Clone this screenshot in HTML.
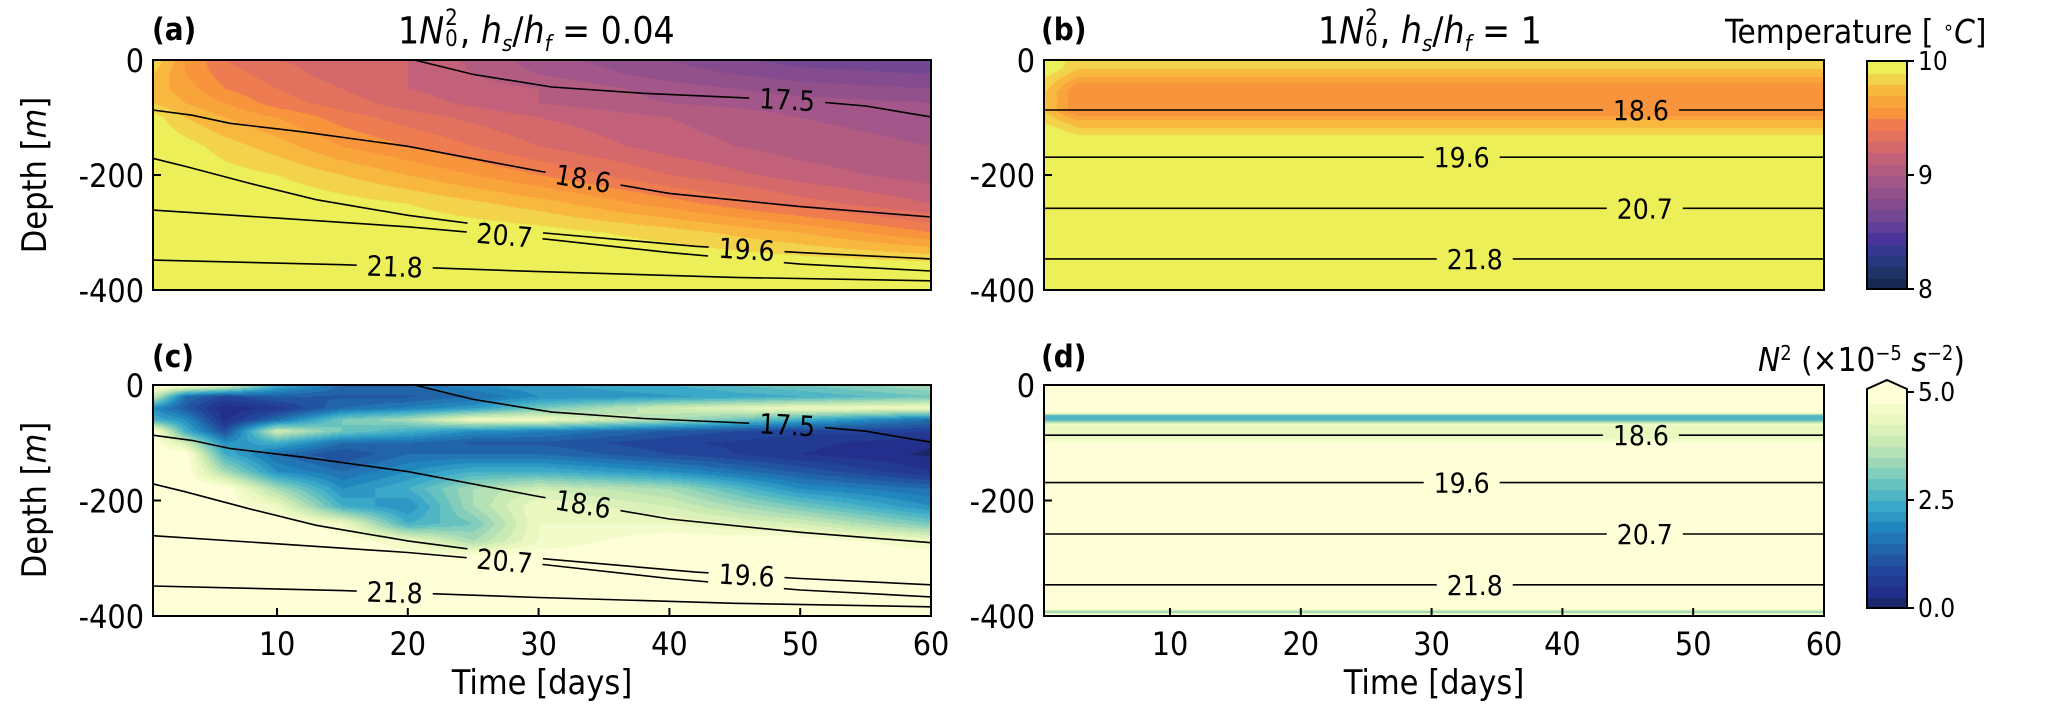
<!DOCTYPE html>
<html><head><meta charset="utf-8">
<style>
body{margin:0;background:#fff;}
#root{position:relative;width:2067px;height:716px;overflow:hidden;background:#fff;font-family:"DejaVu Sans Condensed","DejaVu Sans","Liberation Sans",sans-serif;font-stretch:condensed;color:#000;}
canvas{position:absolute;}
svg{position:absolute;left:0;top:0;}
.t{position:absolute;white-space:nowrap;font-size:30px;line-height:1;}
.ss{display:inline-flex;flex-direction:column;vertical-align:middle;font-size:22px;line-height:0.95;margin-left:1px;margin-right:2px;position:relative;top:-3px;}
.sub{font-size:22px;position:relative;top:8px;}
.sup{font-size:20px;position:relative;top:-12px;}
</style></head>
<body>
<div id="root">
<canvas id="cvA"></canvas>
<canvas id="cvB"></canvas>
<canvas id="cvC"></canvas>
<canvas id="cvD"></canvas>
<canvas id="cbT"></canvas>
<canvas id="cbN"></canvas>
<svg id="ov" width="2067" height="716"></svg>

<div class="t" style="left:152px;top:15px;font-weight:bold;font-size:31px;">(a)</div>
<div class="t" style="left:1041px;top:15px;font-weight:bold;font-size:31px;">(b)</div>
<div class="t" style="left:152px;top:342px;font-weight:bold;font-size:31px;">(c)</div>
<div class="t" style="left:1041px;top:342px;font-weight:bold;font-size:31px;">(d)</div>

<div class="t" style="left:398px;top:12px;font-size:37px;">1<i>N</i><span class="ss"><span>2</span><span>0</span></span>, <i>h<span class="sub">s</span></i>/<i>h<span class="sub">f</span></i> = 0.04</div>
<div class="t" style="left:1318px;top:12px;font-size:37px;">1<i>N</i><span class="ss"><span>2</span><span>0</span></span>, <i>h<span class="sub">s</span></i>/<i>h<span class="sub">f</span></i> = 1</div>
<div class="t" style="left:1725px;top:15px;font-size:33px;">Temperature [ <span class="sup" style="font-size:20px;top:-9px">∘</span><i>C</i>]</div>
<div class="t" style="left:1758px;top:343px;font-size:33px;"><i>N</i><span class="sup" style="top:-11px">2</span> (×10<span class="sup" style="top:-11px">−5</span> <i>s</i><span class="sup" style="top:-11px">−2</span>)</div>

<div class="t" style="left:-45px;top:158px;transform:rotate(-90deg);width:160px;text-align:center;font-size:34px;">Depth [<i>m</i>]</div>
<div class="t" style="left:-45px;top:483px;transform:rotate(-90deg);width:160px;text-align:center;font-size:34px;">Depth [<i>m</i>]</div>
<div class="t" style="left:432px;top:666px;width:220px;text-align:center;font-size:34px;">Time [days]</div>
<div class="t" style="left:1324px;top:666px;width:220px;text-align:center;font-size:34px;">Time [days]</div>
</div>

<script>
// ---------- DATA ----------
const tempTimesA = [0.5, 3, 6, 10, 15, 20, 30, 40, 50, 60];
const tempDepthsA = [0, -25, -50, -75, -100, -150, -200, -250, -300, -350, -400];
const tempA = [
 [9.9, 9.6, 9.4, 9.3, 9.25, 9.2, 8.95, 8.8, 8.65, 8.6],
 [9.8, 9.6, 9.45, 9.35, 9.25, 9.2, 9.0, 8.85, 8.75, 8.7],
 [9.75, 9.65, 9.5, 9.4, 9.3, 9.2, 9.1, 8.95, 8.85, 8.8],
 [9.8, 9.7, 9.6, 9.45, 9.35, 9.25, 9.1, 9.0, 8.95, 8.9],
 [9.95, 9.8, 9.7, 9.6, 9.45, 9.35, 9.2, 9.1, 9.0, 8.95],
 [10, 9.95, 9.85, 9.75, 9.6, 9.5, 9.3, 9.15, 9.05, 9.0],
 [10, 10, 9.95, 9.9, 9.8, 9.7, 9.5, 9.3, 9.15, 9.05],
 [10, 10, 10, 10, 9.95, 9.9, 9.75, 9.55, 9.35, 9.2],
 [10, 10, 10, 10, 10, 10, 9.95, 9.85, 9.7, 9.5],
 [10, 10, 10, 10, 10, 10, 10, 10, 9.95, 9.9],
 [10, 10, 10, 10, 10, 10, 10, 10, 10, 10]
];
const tempTimesB = [0.5, 3, 60];
const tempDepthsB = [0, -15, -30, -45, -55, -90, -100, -110, -125, -140, -400];
const tempB = [
 [10, 9.85, 9.85],
 [10, 9.8, 9.8],
 [9.9, 9.7, 9.7],
 [9.85, 9.55, 9.55],
 [9.8, 9.5, 9.5],
 [9.8, 9.5, 9.5],
 [9.85, 9.65, 9.65],
 [9.9, 9.75, 9.75],
 [10, 9.85, 9.85],
 [10, 10, 10],
 [10, 10, 10]
];
const n2TimesC = [0.5, 3, 6, 10, 15, 20, 25, 30, 40, 50, 60];
const n2DepthsC = [0, -20, -40, -60, -80, -100, -120, -150, -180, -210, -240, -270, -300, -350, -400];
const n2C = [
 [5, 5, 4.5, 2.5, 1.5, 1.5, 2, 2.2, 2.5, 3, 3.5],
 [4, 1.5, 0.9, 1.3, 1.2, 1.2, 1.5, 2, 2.2, 2.5, 3.0],
 [2, 1.2, 0.3, 0.6, 1.5, 1.8, 2.2, 3, 4, 4.5, 4.5],
 [2.5, 2, 0.4, 1.5, 3, 3.5, 4.5, 4.5, 3.5, 2.5, 1.5],
 [5, 2.5, 1.0, 4, 3, 2.5, 2, 1.8, 1.2, 0.8, 0.8],
 [5, 4, 2, 2.5, 1.5, 1.5, 1.2, 1.2, 0.8, 0.6, 0.3],
 [5, 5, 2.5, 1.5, 1.0, 1.5, 1.5, 1.5, 1.0, 0.5, 0.2],
 [5, 5, 3.5, 2, 1.5, 2, 2.5, 2.5, 2, 1.2, 0.5],
 [5, 5, 5, 3.5, 2, 2.5, 3.5, 4, 3.5, 2, 1.5],
 [5, 5, 5, 4.5, 2.5, 2, 3.5, 4.5, 4, 3, 2],
 [5, 5, 5, 5, 4.5, 2.5, 3, 4.5, 4.5, 4, 3],
 [5, 5, 5, 5, 5, 4.5, 3.5, 4.5, 5, 5, 4.5],
 [5, 5, 5, 5, 5, 5, 5, 5, 5, 5, 5],
 [5, 5, 5, 5, 5, 5, 5, 5, 5, 5, 5],
 [5, 5, 5, 5, 5, 5, 5, 5, 5, 5, 5]
];
const n2TimesD = [0.5, 60];
const n2DepthsD = [0, -48, -53, -58, -63, -68, -75, -90, -100, -106, -388, -393, -397, -400];
const n2D = [
 [5, 5], [5, 5], [2.6, 2.6], [2.5, 2.5], [3.2, 3.2], [4.6, 4.6], [4.3, 4.3], [4.3, 4.3],
 [4.8, 4.8], [5, 5], [5, 5], [3, 3], [5, 5], [5, 5]
];
const c175Days = [20.5, 25, 31, 38, 44, 50, 55, 60];
const c175Depth = [0, -25, -47, -58, -64, -70, -80, -99];
const c186Days = [0.5, 3.5, 6.4, 12, 20, 30, 40, 50, 60];
const c186Depth = [-87, -96, -110, -125, -150, -193, -232, -255, -273];
const c196Days = [0.5, 3, 8, 13, 20, 30, 42, 50, 60];
const c196Depth = [-171, -185, -215, -243, -270, -300, -324, -335, -346];
const c207Days = [0.5, 10, 20, 30, 40, 50, 60];
const c207Depth = [-261, -275, -290, -310, -335, -355, -367];
const c218Days = [0.5, 15, 30, 45, 60];
const c218Depth = [-348, -356, -368, -378, -384];
const contourLabelsA = ["17.5", "18.6", "19.6", "20.7", "21.8"];
const contourLabelDaysA = [49, 33.4, 45.9, 27.4, 19];
const flatContourDepths = [-87, -169, -258, -346];
const flatContourLabels = ["18.6", "19.6", "20.7", "21.8"];
const flatContourLabelDays = [46, 32.3, 46.3, 33.3];
const xTicks = [10, 20, 30, 40, 50, 60];
const yTicks = [0, -200, -400];
const tempCbTicks = [10, 9, 8];
const n2CbTicks = [5.0, 2.5, 0.0];

// ---------- SCALES ----------
const PX = 13.08;
const panels = {
  a: {x0: 153, x1: 931, y0: 60, y1: 290, tick10: 277},
  b: {x0: 1044, x1: 1824, y0: 60, y1: 290, tick10: 1170},
  c: {x0: 153, x1: 931, y0: 385, y1: 616, tick10: 277},
  d: {x0: 1044, x1: 1824, y0: 385, y1: 616, tick10: 1170}
};
function xs(p, t){ return p.tick10 + (t - 10) * PX; }
function ys(p, d){ return p.y0 + (-d) / 400 * (p.y1 - p.y0); }
function tx(p, x){ return 10 + (x - p.tick10) / PX; }
function dy(p, y){ return -(y - p.y0) / (p.y1 - p.y0) * 400; }

// ---------- COLORMAPS ----------
const tStops = [[8.0,"#0f1d3a"],[8.2,"#1f3366"],[8.35,"#2c3a8a"],[8.5,"#4a349c"],[8.65,"#6a4494"],[8.8,"#844c8e"],[9.0,"#a2568a"],[9.2,"#c3617a"],[9.35,"#dc6b63"],[9.5,"#ee7c50"],[9.6,"#f8953c"],[9.75,"#f9ab3a"],[9.85,"#f7c545"],[10,"#ecef57"]];
const nStops = [[0,"#101e4b"],[0.5,"#232f8c"],[1.0,"#22449a"],[1.5,"#2165a8"],[2.0,"#2186be"],[2.5,"#3aa8c8"],[3.0,"#66c2bf"],[3.5,"#9dd7b7"],[4.0,"#caeab4"],[4.5,"#eaf7bf"],[5,"#feffd6"]];
function hex(h){ return [parseInt(h.substr(1,2),16),parseInt(h.substr(3,2),16),parseInt(h.substr(5,2),16)]; }
function cmap(stops, v){
  if (v <= stops[0][0]) return hex(stops[0][1]);
  for (let i = 1; i < stops.length; i++) {
    if (v <= stops[i][0]) {
      const f = (v - stops[i-1][0]) / (stops[i][0] - stops[i-1][0]);
      const a = hex(stops[i-1][1]), b = hex(stops[i][1]);
      return [0,1,2].map(k => Math.round(a[k] + (b[k]-a[k]) * f));
    }
  }
  return hex(stops[stops.length-1][1]);
}
function levelColor(stops, v, lo, hi, step){
  const n = Math.round((hi - lo) / step);
  let lev = Math.floor((v - lo) / step + 1e-6);
  lev = Math.max(0, Math.min(n - 1, lev));
  return cmap(stops, lo + (lev + 1) * step);
}
function locate(arr, v){
  if (v <= arr[0]) return [0, 0];
  for (let i = 1; i < arr.length; i++) if (v <= arr[i]) return [i-1, (v - arr[i-1]) / (arr[i] - arr[i-1])];
  return [arr.length - 2, 1];
}
function field(times, depths, Z, t, d){
  const [i, fi] = locate(times, t);
  const [j, fj] = locate(depths.map(x => -x), -d);
  const i2 = Math.min(i+1, times.length-1), j2 = Math.min(j+1, depths.length-1);
  const a = Z[j][i] * (1-fi) + Z[j][i2] * fi;
  const b = Z[j2][i] * (1-fi) + Z[j2][i2] * fi;
  return a * (1-fj) + b * fj;
}
function drawField(id, p, times, depths, Z, stops, step, lo, hi){
  const c = document.getElementById(id);
  const w = p.x1 - p.x0, h = p.y1 - p.y0;
  c.width = w; c.height = h; c.style.left = p.x0 + "px"; c.style.top = p.y0 + "px";
  const ctx = c.getContext("2d"), img = ctx.createImageData(w, h);
  for (let y = 0; y < h; y++) for (let x = 0; x < w; x++) {
    const v = field(times, depths, Z, tx(p, p.x0 + x + 0.5), dy(p, p.y0 + y + 0.5));
    const col = levelColor(stops, v, lo, hi, step), k = (y * w + x) * 4;
    img.data[k] = col[0]; img.data[k+1] = col[1]; img.data[k+2] = col[2]; img.data[k+3] = 255;
  }
  ctx.putImageData(img, 0, 0);
}
drawField("cvA", panels.a, tempTimesA, tempDepthsA, tempA, tStops, 0.1, 8, 10);
drawField("cvB", panels.b, tempTimesB, tempDepthsB, tempB, tStops, 0.1, 8, 10);
drawField("cvC", panels.c, n2TimesC, n2DepthsC, n2C, nStops, 0.25, 0, 5);
drawField("cvD", panels.d, n2TimesD, n2DepthsD, n2D, nStops, 0.25, 0, 5);

function drawBar(id, x0, y0, w, h, stops, lo, hi, n){
  const c = document.getElementById(id);
  c.width = w; c.height = h; c.style.left = x0 + "px"; c.style.top = y0 + "px";
  const ctx = c.getContext("2d");
  const step = (hi - lo) / n;
  for (let i = 0; i < n; i++) {
    const col = cmap(stops, lo + (i + 1) * step);
    ctx.fillStyle = "rgb(" + col.join(",") + ")";
    const ya = h - (i+1) * h / n;
    ctx.fillRect(0, Math.floor(ya), w, Math.ceil(h / n) + 1);
  }
}
drawBar("cbT", 1867, 61, 40, 228, tStops, 8, 10, 20);
drawBar("cbN", 1867, 392, 40, 216, nStops, 0, 5, 20);

// ---------- OVERLAY ----------
const NS = "http://www.w3.org/2000/svg";
const ov = document.getElementById("ov");
function mk(tag, attrs, parent){
  const e = document.createElementNS(NS, tag);
  for (const k in attrs) e.setAttribute(k, attrs[k]);
  (parent || ov).appendChild(e);
  return e;
}
function interpDepth(days, depths, t){
  const [i, f] = locate(days, t);
  return depths[i] * (1-f) + depths[Math.min(i+1, depths.length-1)] * f;
}
const FONT = "DejaVu Sans Condensed, DejaVu Sans, sans-serif";
const defs = mk("defs", {});
function contourPanel(key, curves, labels, labelDays){
  const p = panels[key];
  const mask = mk("mask", {id: "m" + key, maskUnits: "userSpaceOnUse", x: 0, y: 0, width: 2067, height: 716}, defs);
  mk("rect", {x: 0, y: 0, width: 2067, height: 716, fill: "#fff"}, mask);
  const g = mk("g", {mask: "url(#m" + key + ")"});
  
  
  curves.forEach((cv, idx) => {
    let d = "";
    cv[0].forEach((t, i) => { d += (i ? "L" : "M") + xs(p, Math.max(t, 0.45)).toFixed(1) + "," + ys(p, cv[1][i]).toFixed(1); });
    const line = mk("path", {d: d, fill: "none", stroke: "#000", "stroke-width": 1.6}, g);
    
    
    const lt = labelDays[idx];
    const lx = xs(p, lt), ly = ys(p, interpDepth(cv[0], cv[1], lt));
    const y1 = ys(p, interpDepth(cv[0], cv[1], lt - 2)), y2 = ys(p, interpDepth(cv[0], cv[1], lt + 2));
    const ang = Math.atan2(y2 - y1, xs(p, lt + 2) - xs(p, lt - 2)) * 180 / Math.PI;
    mk("rect", {x: lx - 38, y: ly - 15, width: 76, height: 30, fill: "#000", transform: "rotate(" + ang.toFixed(2) + " " + lx + " " + ly + ")"}, mask);
    const txt = mk("text", {x: lx, y: ly + 10, "text-anchor": "middle", "font-size": 28, "font-family": FONT, "font-stretch": "condensed", transform: "rotate(" + ang.toFixed(2) + " " + lx + " " + ly + ")"});
    txt.textContent = labels[idx];
    
    
  });
}
const curvesAC = [[c175Days, c175Depth], [c186Days, c186Depth], [c196Days, c196Depth], [c207Days, c207Depth], [c218Days, c218Depth]];
contourPanel("a", curvesAC, contourLabelsA, contourLabelDaysA);
contourPanel("c", curvesAC, contourLabelsA, contourLabelDaysA);
const curvesBD = flatContourDepths.map(d => [[0.45, 60], [d, d]]);
contourPanel("b", curvesBD, flatContourLabels, flatContourLabelDays);
contourPanel("d", curvesBD, flatContourLabels, flatContourLabelDays);

["a","b","c","d"].forEach(key => {
  const p = panels[key];
  const fr = mk("rect", {x: p.x0, y: p.y0, width: p.x1 - p.x0, height: p.y1 - p.y0, fill: "none", stroke: "#000", "stroke-width": 2});
  
  
  yTicks.forEach(v => {
    const y = ys(p, v);
    const tk = mk("line", {x1: p.x0, x2: p.x0 + 8, y1: y, y2: y, stroke: "#000", "stroke-width": 2});
    
    
    const lb = mk("text", {x: p.x0 - 9, y: y + 12, "text-anchor": "end", "font-size": 32, "font-family": FONT, "font-stretch": "condensed"});
    lb.textContent = v === 0 ? "0" : String(v);
    
    
  });
  if (key === "c" || key === "d") {
    xTicks.forEach(v => {
      const x = xs(p, v);
      const tk = mk("line", {x1: x, x2: x, y1: p.y1, y2: p.y1 - 8, stroke: "#000", "stroke-width": 2});
      
      
      const lb = mk("text", {x: x, y: 655, "text-anchor": "middle", "font-size": 32, "font-family": FONT, "font-stretch": "condensed"});
      lb.textContent = String(v);
      
      
    });
  }
});
const cbTf = mk("rect", {x: 1867, y: 61, width: 40, height: 228, fill: "none", stroke: "#000", "stroke-width": 2});


tempCbTicks.forEach(v => {
  const y = 289 - (v - 8) / 2 * 228;
  const tk = mk("line", {x1: 1907, x2: 1914, y1: y, y2: y, stroke: "#000", "stroke-width": 2});
  
  
  const lb = mk("text", {x: 1918, y: y + 9, "font-size": 26, "font-family": FONT, "font-stretch": "condensed"});
  lb.textContent = String(v);
  
  
});
const arrow = mk("path", {d: "M1867,392 L1867,389 L1887,380 L1907,389 L1907,392 Z", fill: "#feffd6", stroke: "none"});


const cbNf = mk("path", {d: "M1867,608 L1867,389 L1887,380 L1907,389 L1907,608 Z", fill: "none", stroke: "#000", "stroke-width": 2});


n2CbTicks.forEach(v => {
  const y = 608 - v / 5 * 216;
  const tk = mk("line", {x1: 1907, x2: 1914, y1: y, y2: y, stroke: "#000", "stroke-width": 2});
  
  
  const lb = mk("text", {x: 1918, y: y + 9, "font-size": 26, "font-family": FONT, "font-stretch": "condensed"});
  lb.textContent = v.toFixed(1);
  
  
});
</script>
</body></html>
